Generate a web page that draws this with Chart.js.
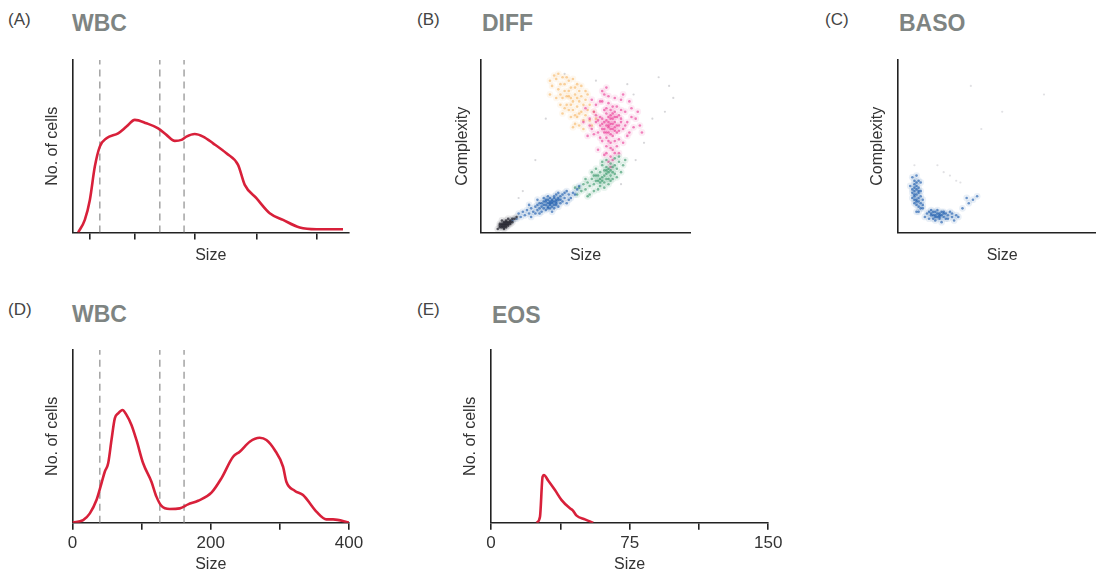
<!DOCTYPE html>
<html>
<head>
<meta charset="utf-8">
<script src="https://cdn.jsdelivr.net/npm/chart.js@4.4.1/dist/chart.umd.min.js"></script>
<style>
  html, body { margin:0; padding:0; background:#fff; width:1096px; height:574px; overflow:hidden; }
  body { position:relative; font-family:"Liberation Sans", Arial, sans-serif; }
  canvas { position:absolute; }
  .tag { position:absolute; font-size:17px; line-height:17px; color:#444; }
  .ttl { position:absolute; font-size:23px; line-height:23px; font-weight:bold; color:#7e8482; }
</style>
</head>
<body>
<div class="tag" style="left:8px;top:11px">(A)</div>
<div class="ttl" style="left:72px;top:12px">WBC</div>
<div class="tag" style="left:417px;top:11px">(B)</div>
<div class="ttl" style="left:482px;top:12px">DIFF</div>
<div class="tag" style="left:825px;top:11px">(C)</div>
<div class="ttl" style="left:899px;top:12px">BASO</div>
<div class="tag" style="left:8px;top:301px">(D)</div>
<div class="ttl" style="left:72px;top:303px">WBC</div>
<div class="tag" style="left:417px;top:301px">(E)</div>
<div class="ttl" style="left:492px;top:304px">EOS</div>

<canvas id="cA"></canvas>
<canvas id="cB"></canvas>
<canvas id="cC"></canvas>
<canvas id="cD"></canvas>
<canvas id="cE"></canvas>

<script>
// ---- data ----
// (A) WBC histogram, size 0-400, count 0-100
const wbcA_x = [8.2, 17.8, 25.1, 32.3, 39.5, 49.2, 66, 78.1, 90.1, 107, 123.9, 135.9, 148, 157.6, 164.8, 176.9, 188.9, 203.4, 222.7, 239.5, 249.2, 266, 285.3, 304.6, 328.7, 352.8, 391.3];
const wbcA_y = [0, 7.3, 18.9, 38.2, 49.8, 54.6, 57.5, 61.4, 65.3, 63.3, 60.4, 56.6, 53.1, 53.7, 55.6, 57.1, 55.6, 51.7, 45.9, 39.2, 27.6, 19.9, 11.2, 7.3, 2.9, 1.9, 1.9];
const ticksA = [25, 90, 177, 267, 353];
const gates = [39.5, 126.3, 161.4];

// (D) WBC histogram
const wbcD_x = [0, 15.4, 25.1, 34.7, 41.9, 46.7, 51.6, 56.4, 61.2, 66, 72.3, 78.1, 85.3, 92.5, 102.2, 114.2, 121.4, 128.7, 140.7, 155.2, 167.2, 181.7, 201, 215.4, 232.3, 241.9, 256.4, 270.8, 280.5, 292.5, 304.6, 309.4, 321.4, 333.5, 352.8, 367.2, 376.9, 400];
const wbcD_y = [0, 1.5, 5.4, 13.1, 22.8, 29.5, 34.4, 47.9, 60.4, 63.3, 65.3, 62.4, 56.6, 47.9, 34.4, 23.7, 15.1, 9.7, 7.9, 8.3, 10.6, 12.7, 17.4, 25.7, 38.2, 41.1, 46.9, 49.2, 47.9, 42.1, 32.4, 23.7, 18.5, 16, 6.4, 1.9, 1.9, 0];
const ticksD = [0, 100, 200, 300, 400];
const tickLabelsD = ['0', '', '200', '', '400'];

// (E) EOS histogram, size 0-150
const eos_x = [24.7, 26.5, 27.9, 28.6, 31, 34.6, 38.2, 42.7, 44.1, 46.3, 50.8, 55.3];
const eos_y = [0, 3.5, 26.6, 27.6, 24.3, 18.9, 13.1, 8.3, 7.3, 4.1, 1.9, 0];
const ticksE = [0, 37.5, 75, 112.5, 150];
const tickLabelsE = ['0', '', '75', '', '150'];

// (B) DIFF scatter, size vs complexity, both 0-100
const diffBlack = [[12,5],[11,4],[13,6],[10,3],[12,7],[14,5],[11,6],[9,3],[13,4],[10,5],[12,3],[14,7],[11,2],[15,6],[9,5],[13,8],[10,7],[12,4],[16,8],[8,2],[11,5],[13,5],[12,6],[10,4],[9,4],[11,3],[14,6],[15,8],[17,9]];
const diffBlue = [[33,17],[35,18],[31,16],[37,19],[29,15],[34,15],[32,19],[36,16],[30,18],[38,21],[27,13],[35,20],[33,14],[40,20],[25,12],[31,13],[28,17],[39,18],[23,11],[36,22],[34,12],[42,22],[21,10],[30,20],[37,15],[26,15],[41,24],[19,9],[32,21],[38,17],[24,14],[44,23],[29,12],[35,14],[22,13],[43,20],[17,8],[33,20],[40,23],[27,16],[46,25],[31,18],[36,19],[20,12],[34,17],[28,11],[33,16],[35,16],[32,15],[34,19],[30,14],[36,18],
  [32,17],[34,18],[31,19],[30,16],[36,17],[33,18],[35,21],[37,20],[29,17],[32,14],[38,19],[39,22],[26,11],[24,9],[45,22],[47,27],[18,11],[15,7],[42,19],[28,14],[27,19],[23,16],[41,17],[37,23]];
const diffGreen = [[58,32],[60,34],[56,30],[62,36],[54,28],[59,29],[57,35],[61,31],[63,38],[52,27],[55,33],[60,38],[50,25],[64,34],[57,27],[53,31],[62,40],[48,24],[59,36],[65,37],[56,25],[51,29],[61,28],[58,39],[46,22],[66,41],[54,24],[63,31],[49,28],[67,35],[55,37],[60,42],[52,22],[57,31],[62,33],[59,26],[47,26],[64,43],[53,35],[68,39],[60,36],[61,37],
  [58,30],[61,35],[59,33],[56,33],[63,35],[57,29],[62,30],[64,39],[55,30],[50,31],[66,44],[69,42],[60,31],[58,41],[54,33],[45,26],[51,21],[65,32]];
const diffPink = [[61,62],[63,60],[60,65],[62,57],[64,64],[59,60],[62,68],[65,58],[60,55],[63,66],[58,63],[66,62],[61,58],[64,70],[57,67],[62,52],[67,66],[59,71],[63,48],[60,50],[56,58],[68,60],[65,73],[55,64],[61,75],[58,53],[69,70],[54,70],[66,54],[62,44],[57,76],[70,64],[64,78],[53,60],[71,58],[59,80],[67,77],[55,74],[72,72],[52,66],[63,42],[60,46],[74,66],[50,72],[66,46],[58,82],[68,52],[76,62],[51,56],[62,71],[64,61],[61,64],[63,56],[59,58],[65,67],[60,69],[62,63],[58,66],[64,53],[61,61],[62,60],[63,63],[60,62],[61,67],[64,59],
  [56,48],[70,56],[73,61],[52,62],[55,68],[67,71],[69,62],[58,76],[61,79],[65,50],[57,55],[72,67],[54,57],[66,68],[63,73],[60,58],[59,64],[62,66],[65,62],[61,53],[58,60],[64,67],[66,59],[57,62],[63,69],[60,72],[67,64],[56,65],[62,49],[59,45],[64,46],[75,70],[77,58],[49,64],[53,77],[60,84],[68,80],[71,76],[62,38],[61,41]];
const diffOrange = [[44,76],[42,79],[46,73],[40,82],[48,70],[43,84],[38,86],[45,80],[47,76],[41,74],[50,68],[36,89],[44,71],[49,74],[39,78],[46,67],[42,88],[52,65],[37,83],[47,82],[43,67],[51,71],[35,91],[45,63],[40,72],[48,79],[53,62],[41,90],[38,80],[46,86],[34,85],[50,77],[44,61],[39,69],[49,65],[36,78],[42,71],[47,69],[45,84],[43,78],
  [37,92],[33,88],[39,90],[42,82],[44,89],[48,85],[51,80],[52,74],[54,70],[47,62],[43,74],[40,86],[46,78],[49,60],[38,74],[45,68],[41,79],[50,82],[33,80],[55,66]];
const diffStray = [[20,24],[55,88],[73,80],[90,85],[92,78],[78,52],[26,42],[31,66],[85,90],[67,28],[74,42],[18,20],[82,66],[40,92],[70,86],[88,70]];

// (C) BASO scatter
const basoBlue = [[8,30],[9,27],[7,25],[10,23],[8,21],[9,19],[11,17],[10,15],[8,28],[7,32],[9,33],[10,26],[11,21],[8,24],[9,16],[12,14],[10,12],[7,20],[11,29],[9,22],[6,27],[10,18],[12,19],[8,17],[9,12],[14,11],[16,10],[18,9],[20,10],[17,12],[19,11],[22,9],[15,8],[21,12],[24,10],[18,7],[23,8],[26,9],[16,13],[20,8],[25,12],[28,10],[13,9],[22,11],[19,13],[27,7],[29,9],[17,8],[21,6],[15,12],[31,14],[34,17],[36,19],[38,21],[33,20],
  [8,26],[9,29],[10,24],[8,22],[9,25],[10,20],[7,23],[11,24],[9,18],[8,19],[10,30],[11,14],[12,16],[18,10],[19,9],[20,11],[17,10],[21,10],[16,11],[23,11],[18,12],[22,12],[20,9],[24,8],[26,11]];
const basoStray = [[22,35],[19,39],[28,30],[25,33],[8,39],[30,29],[35,85],[50,70],[70,80],[40,60]];

// ---- drawing ----
const FONT = '"Liberation Sans", Arial, sans-serif';
const border = {display: true, color: '#222', width: 1.6};
const red = '#d8203a';

function axisTitle(text, pad) {
  return {display: true, text: text, color: '#333', font: {family: FONT, size: 16}, padding: pad};
}
function pts(xs, ys) { return xs.map((x, i) => ({x: x, y: ys[i]})); }
function pairs(a) { return a.map(p => ({x: p[0], y: p[1]})); }
function curve(xs, ys) {
  return {data: pts(xs, ys), showLine: true, borderColor: red, borderWidth: 2.6, pointRadius: 0, cubicInterpolationMode: 'monotone'};
}
function gateLines() {
  return gates.map(g => ({data: [{x: g, y: 0}, {x: g, y: 100}], showLine: true, borderColor: '#a3a3a3', borderWidth: 1.5, borderDash: [7, 5], pointRadius: 0}));
}
// each cloud: fine dots on top of a soft wide halo so dense cores read darker
function cloud(a, rgb, alpha, r) {
  return [
    {data: pairs(a), backgroundColor: 'rgba(' + rgb + ',' + alpha + ')', borderWidth: 0, pointRadius: r || 1.3},
    {data: pairs(a), backgroundColor: 'rgba(' + rgb + ',0.09)', borderWidth: 0, pointRadius: (r || 1.3) * 2.6}
  ];
}

// box = canvas placement, plot = wanted plot area, both in page pixels
function makeChart(id, box, plot, datasets, xOpts, yOpts) {
  const cv = document.getElementById(id);
  cv.style.left = box.left + 'px';
  cv.style.top = box.top + 'px';
  cv.width = box.w;
  cv.height = box.h;
  const yW = plot.l - box.left, xH = box.top + box.h - plot.b;
  return new Chart(cv, {
    type: 'scatter',
    data: {datasets: datasets},
    options: {
      responsive: false, animation: false, events: [],
      layout: {padding: {left: 0, top: plot.t - box.top, right: box.left + box.w - plot.r, bottom: 0}},
      plugins: {legend: {display: false}, tooltip: {enabled: false}},
      scales: {
        x: Object.assign({type: 'linear', border: border, afterFit: s => { s.height = xH; }}, xOpts),
        y: Object.assign({type: 'linear', border: border, min: 0, max: 100,
          ticks: {display: false}, grid: {display: false}, afterFit: s => { s.width = yW; }}, yOpts)
      }
    }
  });
}

function tickAxis(min, max, values, labels, titlePad) {
  return {
    min: min, max: max,
    afterBuildTicks: s => { s.ticks = values.map(v => ({value: v})); },
    grid: {display: true, drawOnChartArea: false, drawTicks: true, tickLength: 7, color: '#222', lineWidth: 1.6},
    ticks: labels ? {display: true, autoSkip: false, maxRotation: 0, padding: 3, color: '#333',
      font: {family: FONT, size: 17}, callback: (v, i) => labels[i]} : {display: false},
    title: axisTitle('Size', titlePad)
  };
}

// (A)
makeChart('cA', {left: 0, top: 40, w: 372, h: 240}, {l: 72.5, t: 60, r: 349, b: 232.5},
  [curve(wbcA_x, wbcA_y)].concat(gateLines()),
  tickAxis(0, 400, ticksA, null, {top: 0, bottom: 15}),
  {title: axisTitle('No. of cells', {top: 42.5, bottom: 0})});

// (B)
makeChart('cB', {left: 400, top: 40, w: 310, h: 240}, {l: 481, t: 60, r: 690, b: 232.5},
  [].concat(cloud(diffBlack, '30,30,40', 0.7), cloud(diffBlue, '20,85,170', 0.6),
   cloud(diffGreen, '35,140,90', 0.55), cloud(diffPink, '232,40,140', 0.55),
   cloud(diffOrange, '245,175,85', 0.55),
   [{data: pairs(diffStray), backgroundColor: 'rgba(120,120,130,0.3)', borderWidth: 0, pointRadius: 1.1}]),
  {min: 0, max: 100, ticks: {display: false}, grid: {display: false}, title: axisTitle('Size', {top: 0, bottom: 15})},
  {title: axisTitle('Complexity', {top: 53, bottom: 0})});

// (C)
makeChart('cC', {left: 810, top: 40, w: 310, h: 240}, {l: 897.7, t: 60, r: 1106.7, b: 232.5},
  cloud(basoBlue, '20,85,170', 0.6).concat(
   [{data: pairs(basoStray), backgroundColor: 'rgba(120,120,130,0.22)', borderWidth: 0, pointRadius: 1.1}]),
  {min: 0, max: 100, ticks: {display: false}, grid: {display: false}, title: axisTitle('Size', {top: 0, bottom: 15})},
  {title: axisTitle('Complexity', {top: 58, bottom: 0})});

// (D)
makeChart('cD', {left: 0, top: 330, w: 372, h: 244}, {l: 72.5, t: 350, r: 349, b: 522.7},
  [curve(wbcD_x, wbcD_y)].concat(gateLines()),
  tickAxis(0, 400, ticksD, tickLabelsD, {top: 0, bottom: 0}),
  {title: axisTitle('No. of cells', {top: 43, bottom: 0})});

// (E)
makeChart('cE', {left: 400, top: 330, w: 400, h: 244}, {l: 491, t: 350, r: 768.3, b: 522.7},
  [curve(eos_x, eos_y)],
  tickAxis(0, 150, ticksE, tickLabelsE, {top: 0, bottom: 0}),
  {title: axisTitle('No. of cells', {top: 61, bottom: 0})});
</script>
</body>
</html>
